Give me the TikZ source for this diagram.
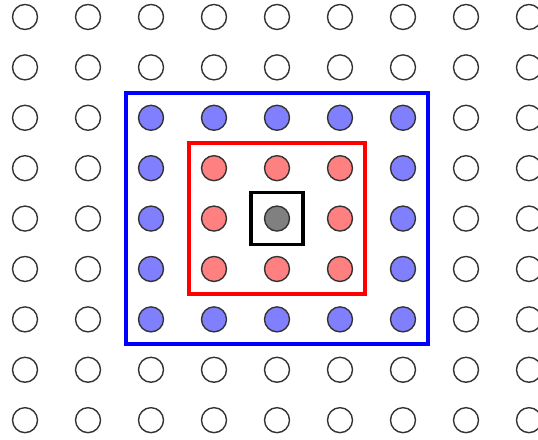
\documentclass[tikz,border=0pt]{standalone}
\usetikzlibrary{fit}

\tikzset{
    site/.style={circle, draw=black!80, line width=0.8pt,
        minimum size=0.5cm, inner sep=0pt, outer sep=0pt},
    ring0/.style={site, fill=black!50},
    ring1/.style={site, fill=red!50},
    ring2/.style={site, fill=blue!50},
    ring3/.style={site, fill=white},
    ring4/.style={site, fill=white},
    frame/.style={rectangle, line width=2.4pt, outer sep=0pt}
}

\begin{document}
\begin{tikzpicture}[x=1.26cm, y=1.008cm]
    \useasboundingbox (-0.397,0.337) rectangle (8.143,-8.393);

    % Reticolo di siti
    \foreach \i in {0,...,8} {
        \foreach \j in {0,...,8} {
            \pgfmathtruncatemacro{\r}{max(abs(\i-4),abs(\j-4))}
            \node[ring\r] (s-\i-\j) at (\i,-\j) {};
        }
    }

    % Cornici attorno ai vicini
    \node[frame, draw=blue, fit=(s-2-2)(s-6-6), inner sep=0.25cm] (outer) {};
    \node[frame, draw=red, fit=(s-3-3)(s-5-5), inner sep=0.25cm] (inner) {};
    \node[frame, draw=black, line width=2.1pt, fit=(s-4-4), inner sep=0.27cm] (centre) {};
\end{tikzpicture}
\end{document}
